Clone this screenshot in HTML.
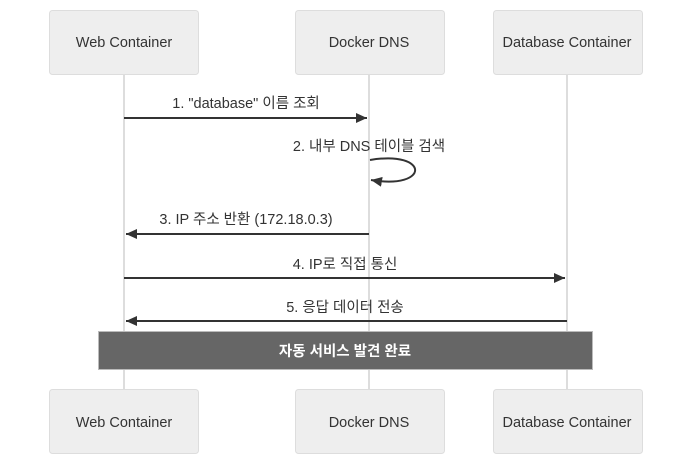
<!DOCTYPE html>
<html><head><meta charset="utf-8"><style>
html,body{margin:0;padding:0;background:#fff;}
svg{display:block;font-family:"Liberation Sans","Noto Sans CJK KR",sans-serif;}
</style></head><body>
<svg width="699" height="470" viewBox="0 0 699 470" xmlns="http://www.w3.org/2000/svg">
<defs>
<marker id="a" markerWidth="12" markerHeight="12" refX="11" refY="5" orient="auto" markerUnits="userSpaceOnUse">
<path d="M0,0 L11,5 L0,10 z" fill="#333"/></marker>
</defs>
<g stroke="#ddd" stroke-width="2">
<line x1="124" y1="74" x2="124" y2="389"/>
<line x1="369" y1="74" x2="369" y2="389"/>
<line x1="567" y1="74" x2="567" y2="389"/>
</g>
<g fill="#eee" stroke="#ddd" stroke-width="1">
<rect x="49.5" y="10.5" width="149" height="64" rx="3"/>
<rect x="295.5" y="10.5" width="149" height="64" rx="3"/>
<rect x="493.5" y="10.5" width="149" height="64" rx="3"/>
<rect x="49.5" y="389.5" width="149" height="64" rx="3"/>
<rect x="295.5" y="389.5" width="149" height="64" rx="3"/>
<rect x="493.5" y="389.5" width="149" height="64" rx="3"/>
</g>
<g font-size="14.5" fill="#333" text-anchor="middle">
<text x="124" y="47">Web Container</text>
<text x="369" y="47">Docker DNS</text>
<text x="567" y="47">Database Container</text>
<text x="124" y="427">Web Container</text>
<text x="369" y="427">Docker DNS</text>
<text x="567" y="427">Database Container</text>
<text x="246" y="108">1. "database" 이름 조회</text>
<text x="369" y="151">2. 내부 DNS 테이블 검색</text>
<text x="246" y="224">3. IP 주소 반환 (172.18.0.3)</text>
<text x="345" y="269">4. IP로 직접 통신</text>
<text x="345" y="312">5. 응답 데이터 전송</text>
</g>
<g stroke="#333" stroke-width="2" fill="none">
<line x1="124" y1="118" x2="367" y2="118" marker-end="url(#a)"/>
<path d="M370,160 C430,150 430,190 371,180" marker-end="url(#a)"/>
<line x1="369" y1="234" x2="126" y2="234" marker-end="url(#a)"/>
<line x1="124" y1="278" x2="565" y2="278" marker-end="url(#a)"/>
<line x1="567" y1="321" x2="126" y2="321" marker-end="url(#a)"/>
</g>
<rect x="98.5" y="331.5" width="494" height="38" fill="#666" stroke="#bbb"/>
<text x="345" y="356" font-size="14.5" font-weight="bold" fill="#fff" text-anchor="middle">자동 서비스 발견 완료</text>
</svg>
</body></html>
